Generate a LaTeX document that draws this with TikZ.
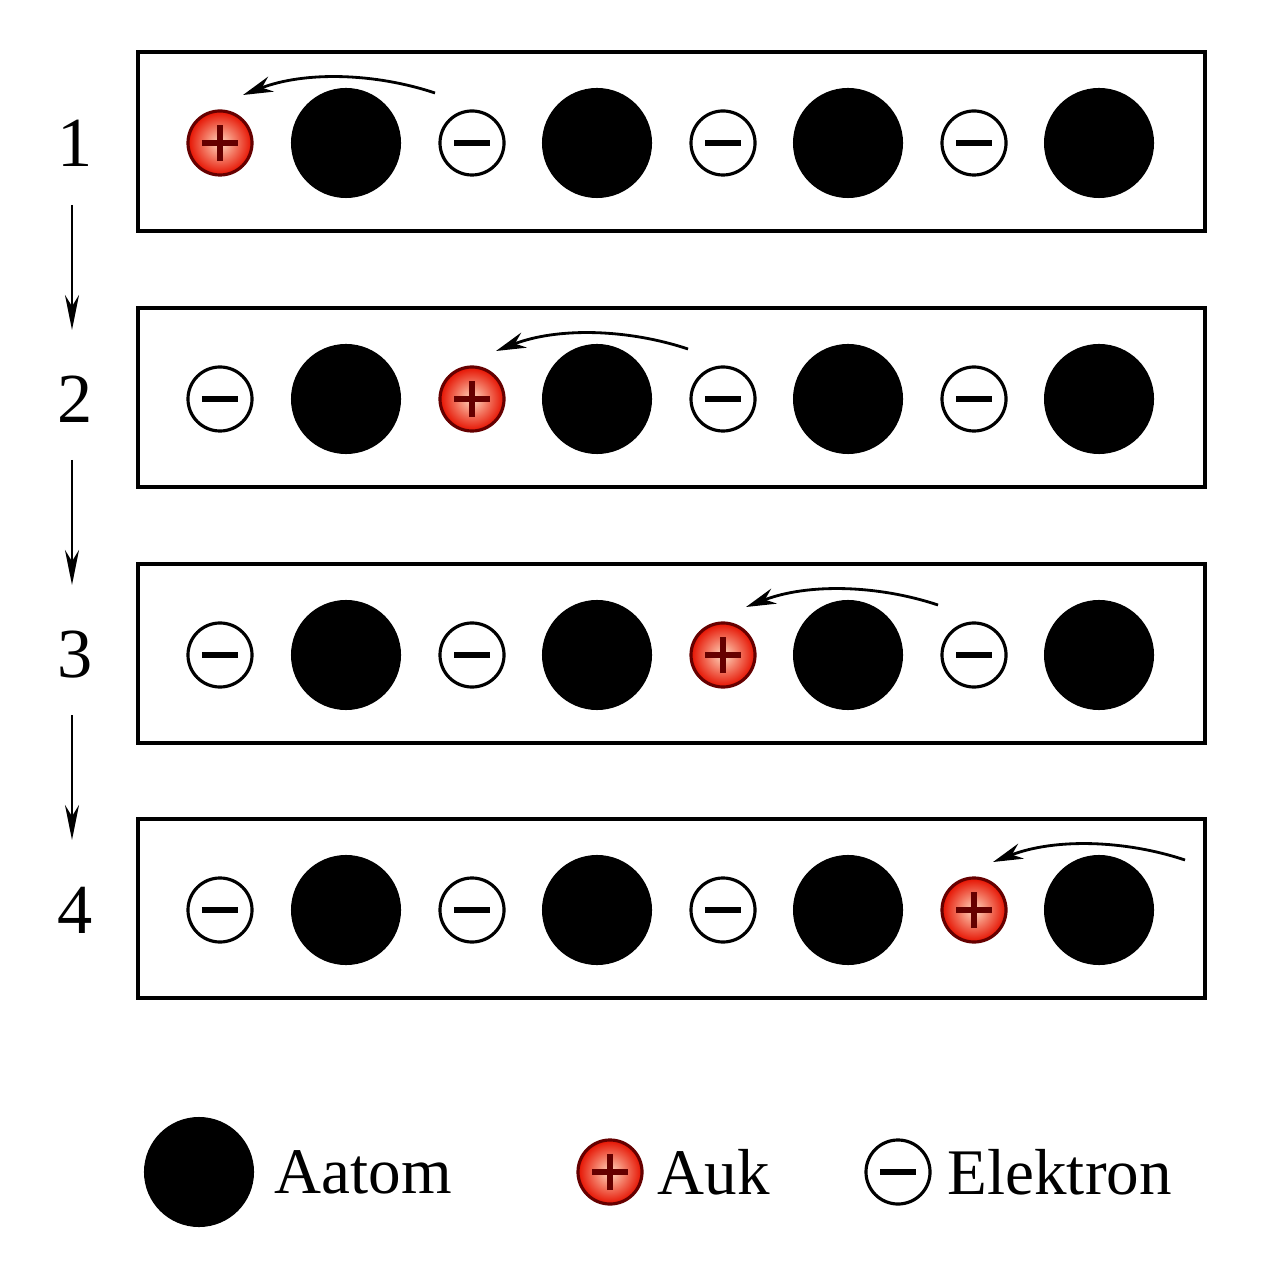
\documentclass[tikz,border=0pt]{standalone}
\usepackage{fontspec}
\setmainfont{Liberation Serif}
\usetikzlibrary{arrows.meta}
\begin{document}
\begin{tikzpicture}[x=0.01cm,y=-0.01cm,
  atom/.style={circle,fill=black,minimum size=1.1cm,inner sep=0},
  elec/.style={circle,draw=black,line width=0.9pt,fill=white,minimum size=0.64cm,inner sep=0,
    path picture={\draw[line width=1.9pt] ([xshift=-0.18cm]path picture bounding box.center)--([xshift=0.18cm]path picture bounding box.center);}},
  hole/.style={circle,draw=black!60!red,line width=0.9pt,inner color=red!20!orange!25!white,outer color=red!85!orange!90!black,minimum size=0.64cm,inner sep=0,
    path picture={\draw[line width=1.9pt] ([xshift=-0.18cm]path picture bounding box.center)--([xshift=0.18cm]path picture bounding box.center)
      ([yshift=-0.18cm]path picture bounding box.center)--([yshift=0.18cm]path picture bounding box.center);}},
  box/.style={draw,line width=0.9pt},
  num/.style={font=\fontsize{20}{24}\selectfont},
  lab/.style={font=\fontsize{18.5}{22}\selectfont,anchor=west,inner sep=0},
  mv/.style={-{Stealth[length=0.3cm,width=0.16cm]},line width=0.8pt},
  dn/.style={-{Stealth[length=0.35cm,width=0.14cm]},line width=0.8pt}]
\useasboundingbox (0,0) rectangle (1280,1280);
\foreach \r/\y/\h in {1/143/1,2/399/2,3/655/3,4/910/4}{
  \draw[box] (138,\y-91) rectangle (1205,\y+88);
  \node[num] (n\r) at (75,\y) {\r};
  \foreach \i/\x in {1/346,2/597,3/848,4/1099}{\node[atom] (a\r\i) at (\x,\y) {};}
  \foreach \i/\x in {1/220,2/472,3/723,4/974}{
    \ifnum\i=\h \node[hole] (e\r\i) at (\x,\y) {};
    \else \node[elec] (e\r\i) at (\x,\y) {};\fi}
}
\foreach \r/\y/\x in {1/143/435,2/399/688,3/655/938,4/910/1185}{
  \coordinate (s\r) at (\x,\y-50);
  \coordinate (t\r) at (\x-192,\y-48);
  \draw[mv] (s\r) .. controls (\x-60,\y-70) and (\x-130,\y-72) .. (t\r);
}
\coordinate (d1s) at (72,205); \coordinate (d1e) at (72,330);
\coordinate (d2s) at (72,460); \coordinate (d2e) at (72,585);
\coordinate (d3s) at (72,715); \coordinate (d3e) at (72,840);
\draw[dn] (d1s)--(d1e); \draw[dn] (d2s)--(d2e); \draw[dn] (d3s)--(d3e);
\node[atom] (la) at (199,1172) {};
\node[lab] (lat) at (274,1172) {Aatom};
\node[hole] (lh) at (610,1172) {};
\node[lab] (lht) at (657,1172) {Auk};
\node[elec] (le) at (898,1172) {};
\node[lab] (let) at (947,1172) {Elektron};
\end{tikzpicture}
\end{document}
